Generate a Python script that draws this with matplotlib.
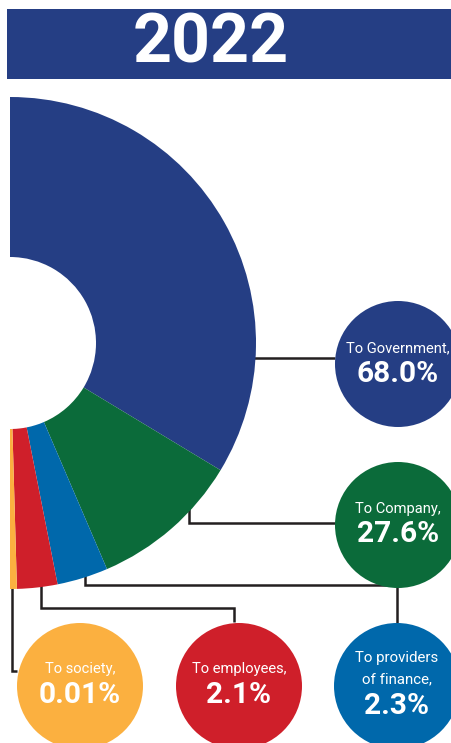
import matplotlib
matplotlib.use("Agg")
import matplotlib.pyplot as plt
from matplotlib.patches import Rectangle, Circle

# ---- data ----
year = "2022"
categories = ["To Government,", "To Company,", "To providers\nof finance,",
              "To employees,", "To society,"]
values = [68.0, 27.6, 2.3, 2.1, 0.01]
value_labels = ["68.0%", "27.6%", "2.3%", "2.1%", "0.01%"]
# arc share of the half-donut as drawn in the picture (small slices enlarged)
slice_shares = [67.3, 19.8, 6.7, 5.3, 0.9]
colors = ["#253e84", "#0b6b3a", "#0068ab", "#cf1f2a", "#fbb040"]

W, H = 452, 743
plt.rcParams['font.family'] = ['Roboto', 'DejaVu Sans']

fig = plt.figure(figsize=(W / 100, H / 100), dpi=100)
ax = fig.add_axes([0, 0, 1, 1])


def Y(py):
    return H - py


LINE = "#231f20"
LW = 1.8

# ---- header ----
ax.add_patch(Rectangle((7, Y(79)), W - 7, 70, facecolor="#253e84",
                       edgecolor="none", zorder=1))
ax.text(211, Y(44), year, color="white", fontsize=49, fontweight="bold",
        ha="center", va="center", zorder=2)

# ---- connector lines (under donut & circles) ----
connectors = [
    [(240, 358), (335, 358)],
    [(189, 500), (189, 523), (335, 523)],
    [(85, 560), (85, 585), (397, 585), (397, 623)],
    [(41, 570), (41, 608), (234, 608), (234, 622)],
    [(12, 570), (12, 671), (17, 671)],
]
for pts in connectors:
    xs = [p[0] for p in pts]
    ys = [Y(p[1]) for p in pts]
    ax.plot(xs, ys, color=LINE, lw=LW, solid_joinstyle="miter",
            solid_capstyle="butt", zorder=2)

# ---- half donut ----
wedges, _ = ax.pie(slice_shares + [sum(slice_shares)],
                   colors=colors + ["white"], startangle=90,
                   counterclock=False, center=(10, Y(343)), radius=246,
                   wedgeprops=dict(width=160, linewidth=0))
wedges[-1].set_visible(False)
for w in wedges:
    w.set_zorder(3)

# ---- circles with labels ----
circles = [(398, 364), (398, 525), (397, 686), (239, 686), (80, 686)]
label_base = [352, 513, None, 673, 673]
value_base = [382, 542, 714, 703, 703]
for i, (cx, cy) in enumerate(circles):
    ax.add_patch(Circle((cx, Y(cy)), 63, facecolor=colors[i],
                        edgecolor="none", zorder=4))
    if i == 2:
        lines = categories[i].split("\n")
        ax.text(cx, Y(662), lines[0], color="white", fontsize=10.8,
                ha="center", va="baseline", zorder=5)
        ax.text(cx, Y(683), lines[1], color="white", fontsize=10.8,
                ha="center", va="baseline", zorder=5)
    else:
        ax.text(cx, Y(label_base[i]), categories[i], color="white",
                fontsize=10.6, ha="center", va="baseline", zorder=5)
    ax.text(cx, Y(value_base[i]), value_labels[i], color="white",
            fontsize=21.5, fontweight="bold", ha="center", va="baseline",
            zorder=5)

ax.set_xlim(0, W)
ax.set_ylim(0, H)
ax.set_aspect("auto")
ax.set_axis_off()

fig.savefig("out.png", dpi=100, facecolor="white")
